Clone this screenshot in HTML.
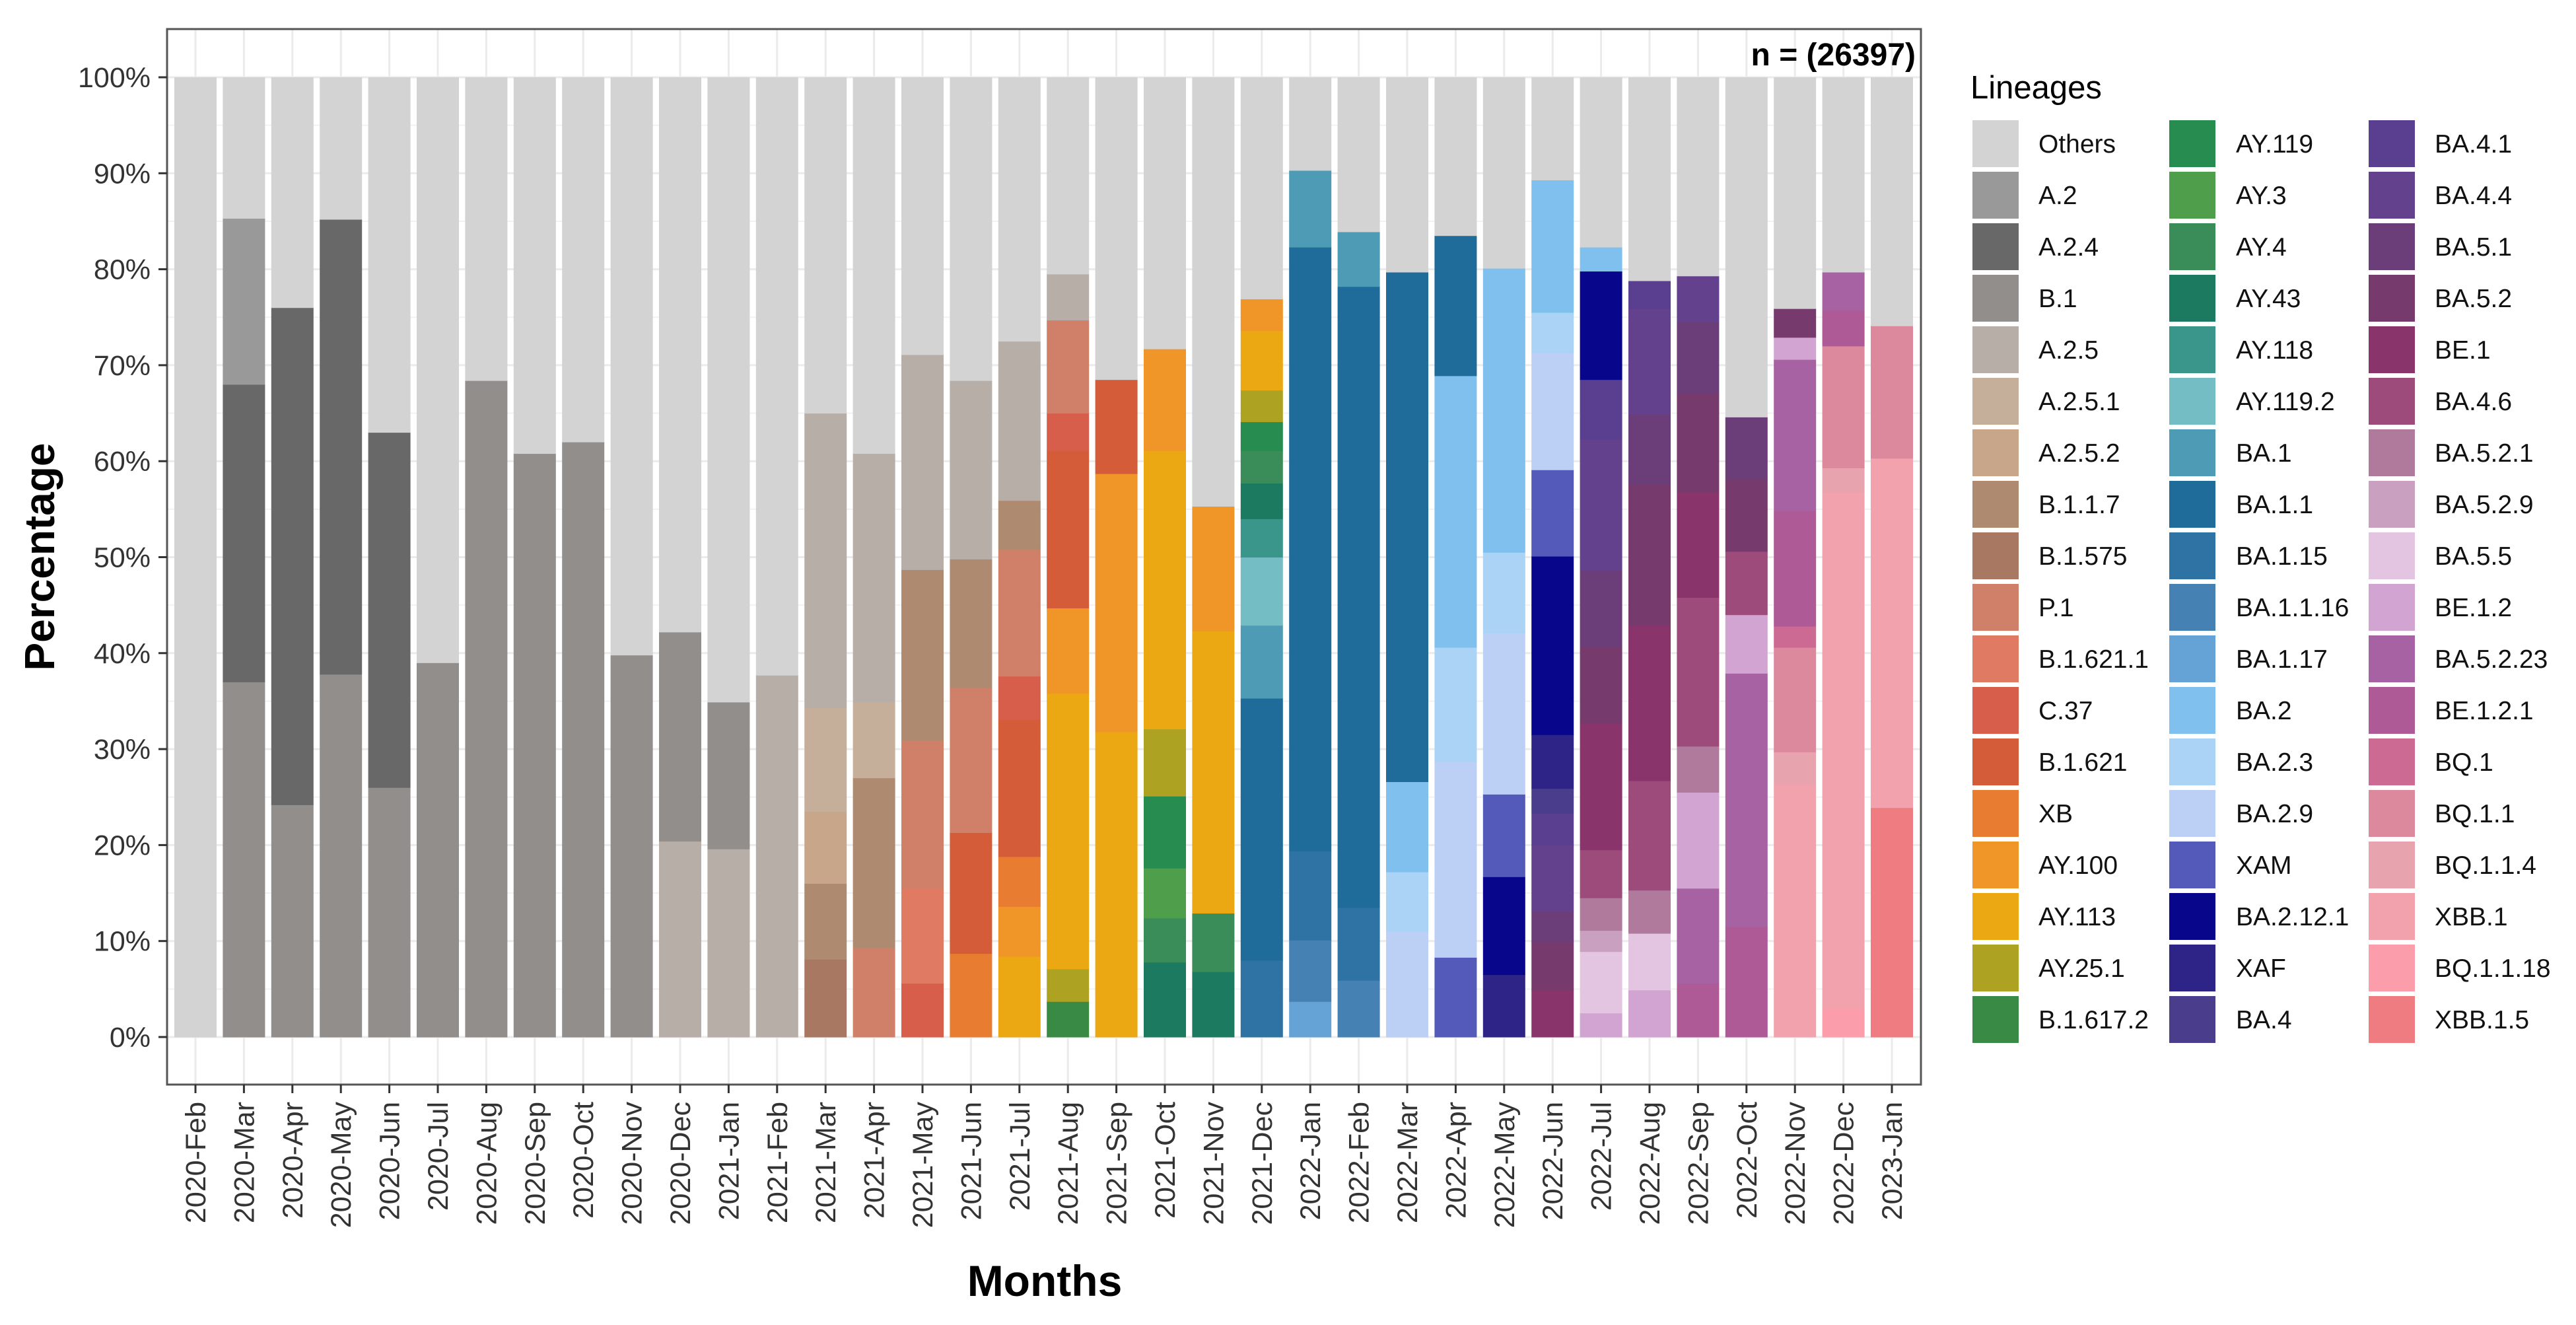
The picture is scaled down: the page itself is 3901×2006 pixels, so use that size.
<!DOCTYPE html>
<html><head><meta charset="utf-8"><style>
html,body{margin:0;padding:0;background:#fff;}
svg{display:block;font-family:"Liberation Sans",Arial,sans-serif;}
</style></head><body>
<svg id="chart" width="3901" height="2006" viewBox="0 0 3901 2006" xmlns="http://www.w3.org/2000/svg">
<rect x="0" y="0" width="3901" height="2006" fill="#fff"/>
<g id="grid"></g>
<g id="bars"></g>
<rect x="253" y="44" width="2656" height="1598" fill="none" stroke="#555" stroke-width="3"/>
<g id="yaxis"></g>
<g id="xaxis"></g>
<text transform="translate(82,843) rotate(-90)" text-anchor="middle" font-weight="bold" font-size="64" fill="#000">Percentage</text>
<text x="1582" y="1962" text-anchor="middle" font-weight="bold" font-size="66" fill="#000">Months</text>
<text x="2901" y="99" text-anchor="end" font-weight="bold" font-size="48" fill="#000">n = (26397)</text>
<text x="2984" y="149" font-size="49" fill="#000">Lineages</text>
<g id="legend"></g>
</svg>
<script>
const months = ["2020-Feb","2020-Mar","2020-Apr","2020-May","2020-Jun","2020-Jul","2020-Aug","2020-Sep","2020-Oct","2020-Nov","2020-Dec","2021-Jan","2021-Feb","2021-Mar","2021-Apr","2021-May","2021-Jun","2021-Jul","2021-Aug","2021-Sep","2021-Oct","2021-Nov","2021-Dec","2022-Jan","2022-Feb","2022-Mar","2022-Apr","2022-May","2022-Jun","2022-Jul","2022-Aug","2022-Sep","2022-Oct","2022-Nov","2022-Dec","2023-Jan"];
const lineages = ["Others","A.2","A.2.4","B.1","A.2.5","A.2.5.1","A.2.5.2","B.1.1.7","B.1.575","P.1","B.1.621.1","C.37","B.1.621","XB","AY.100","AY.113","AY.25.1","B.1.617.2",
"AY.119","AY.3","AY.4","AY.43","AY.118","AY.119.2","BA.1","BA.1.1","BA.1.15","BA.1.1.16","BA.1.17","BA.2","BA.2.3","BA.2.9","XAM","BA.2.12.1","XAF","BA.4",
"BA.4.1","BA.4.4","BA.5.1","BA.5.2","BE.1","BA.4.6","BA.5.2.1","BA.5.2.9","BA.5.5","BE.1.2","BA.5.2.23","BE.1.2.1","BQ.1","BQ.1.1","BQ.1.1.4","XBB.1","BQ.1.1.18","XBB.1.5"];
const colors = ["#d3d3d3","#999999","#686868","#928e8b","#b8aea8","#c5ae9a","#c7a68a","#ad8a70","#a87862","#d08069","#e07a62","#d65e4b","#d45c38","#e87c30","#f09528","#eca813","#aea223","#388a45",
"#268c4f","#4e9e4c","#3a8c58","#1b7a5f","#3a968a","#74bdc4","#4e9bb6","#1f6b99","#2f73a4","#4681b4","#65a3d6","#80c0ee","#aad3f6","#bccff5","#535ab9","#08068a","#2e2488","#4a3d8c",
"#5a3f90","#63418c","#6b3e7a","#763a6c","#8a346c","#9c4b7a","#b07a9c","#c9a0c0","#e3c5e1","#d1a4d1","#a662a2","#ae5a96","#cd6a94","#dc889d","#e8a4ae","#f2a2ac","#fb9dab","#ee7c80"];
const yTicks = [0,10,20,30,40,50,60,70,80,90,100];
const yTickLabels = ["0%","10%","20%","30%","40%","50%","60%","70%","80%","90%","100%"];
// share (%) of each lineage per month; "Others" = remainder to 100
const shares = [
{},
{"B.1":37,"A.2.4":31,"A.2":17.3},
{"B.1":24.2,"A.2.4":51.8},
{"B.1":37.8,"A.2.4":47.4},
{"B.1":26,"A.2.4":37},
{"B.1":39},
{"B.1":68.4},
{"B.1":60.8},
{"B.1":62},
{"B.1":39.8},
{"A.2.5":20.4,"B.1":21.8},
{"A.2.5":19.6,"B.1":15.3},
{"A.2.5":37.7},
{"B.1.575":8.1,"B.1.1.7":7.9,"A.2.5.2":7.5,"A.2.5.1":10.8,"A.2.5":30.7},
{"P.1":9.3,"B.1.1.7":17.7,"A.2.5.1":7.9,"A.2.5":25.9},
{"C.37":5.6,"B.1.621.1":9.9,"P.1":15.4,"B.1.1.7":17.8,"A.2.5":22.4},
{"XB":8.7,"B.1.621":12.6,"P.1":15.1,"B.1.1.7":13.4,"A.2.5":18.6},
{"AY.113":8.4,"AY.100":5.2,"XB":5.2,"B.1.621":14.3,"C.37":4.5,"P.1":13.2,"B.1.1.7":5.1,"A.2.5":16.6},
{"B.1.617.2":3.7,"AY.25.1":3.4,"AY.113":28.7,"AY.100":8.9,"B.1.621":16.4,"C.37":3.9,"P.1":9.7,"A.2.5":4.8},
{"AY.113":31.8,"AY.100":26.9,"B.1.621":9.8},
{"AY.43":7.8,"AY.4":4.6,"AY.3":5.2,"AY.119":7.5,"AY.25.1":7.0,"AY.113":29.0,"AY.100":10.6},
{"AY.43":6.8,"AY.4":6.1,"AY.113":29.4,"AY.100":13.0},
{"BA.1.15":8.0,"BA.1.1":27.3,"BA.1":7.6,"AY.119.2":7.1,"AY.118":4.0,"AY.43":3.7,"AY.4":3.4,"AY.119":3.0,"AY.25.1":3.3,"AY.113":6.2,"AY.100":3.3},
{"BA.1.17":3.7,"BA.1.1.16":6.4,"BA.1.15":9.3,"BA.1.1":62.9,"BA.1":8.0},
{"BA.1.1.16":5.9,"BA.1.15":7.6,"BA.1.1":64.7,"BA.1":5.7},
{"BA.2.9":11.0,"BA.2.3":6.2,"BA.2":9.4,"BA.1.1":53.1},
{"XAM":8.3,"BA.2.9":20.4,"BA.2.3":11.9,"BA.2":28.3,"BA.1.1":14.6},
{"XAF":6.5,"BA.2.12.1":10.2,"XAM":8.6,"BA.2.9":16.8,"BA.2.3":8.4,"BA.2":29.6},
{"BE.1":4.9,"BA.5.2":5.0,"BA.5.1":3.2,"BA.4.4":6.9,"BA.4.1":3.3,"BA.4":2.6,"XAF":5.6,"BA.2.12.1":18.6,"XAM":9.0,"BA.2.9":12.2,"BA.2.3":4.2,"BA.2":13.8},
{"BE.1.2":2.5,"BA.5.5":6.4,"BA.5.2.9":2.2,"BA.5.2.1":3.4,"BA.4.6":5.0,"BE.1":13.2,"BA.5.2":8.0,"BA.5.1":7.9,"BA.4.4":13.7,"BA.4.1":6.2,"BA.2.12.1":11.3,"BA.2":2.5},
{"BE.1.2":4.9,"BA.5.5":5.9,"BA.5.2.1":4.5,"BA.4.6":11.4,"BE.1":16.2,"BA.5.2":14.7,"BA.5.1":7.3,"BA.4.4":11.0,"BA.4.1":2.9},
{"BE.1.2.1":5.6,"BA.5.2.23":9.9,"BE.1.2":10.0,"BA.5.2.1":4.8,"BA.4.6":15.5,"BE.1":11.0,"BA.5.2":10.3,"BA.5.1":7.4,"BA.4.4":4.8},
{"BE.1.2.1":11.5,"BA.5.2.23":26.4,"BE.1.2":6.1,"BA.4.6":6.6,"BA.5.2":7.5,"BA.5.1":6.5},
{"XBB.1":26.3,"BQ.1.1.4":3.4,"BQ.1.1":10.9,"BQ.1":2.2,"BE.1.2.1":12.0,"BA.5.2.23":15.8,"BE.1.2":2.3,"BA.5.2":3.0},
{"BQ.1.1.18":3.0,"XBB.1":53.8,"BQ.1.1.4":2.5,"BQ.1.1":12.7,"BE.1.2.1":3.7,"BA.5.2.23":4.0},
{"XBB.1.5":23.9,"XBB.1":36.4,"BQ.1.1":13.8}
];

const NS="http://www.w3.org/2000/svg";
const X0=296, DX=73.4, BW=64, Y0=1570, YS=14.53;
const xPos = i => X0 + DX*i;
const yPos = v => Y0 - v*YS;
function mk(tag, attrs, parent){const e=document.createElementNS(NS,tag);for(const k in attrs)e.setAttribute(k,attrs[k]);parent.appendChild(e);return e;}

const grid=document.getElementById('grid');
for(let v=5; v<=100; v+=10){
  const g=mk('line',{x1:253,x2:2909,y1:yPos(v),y2:yPos(v),stroke:'#f2f2f2','stroke-width':2},grid);
  
  
}
yTicks.forEach(v=>{
  const g=mk('line',{x1:253,x2:2909,y1:yPos(v),y2:yPos(v),stroke:'#ebebeb','stroke-width':3},grid);
  
  
});
months.forEach((m,i)=>{
  const g=mk('line',{x1:xPos(i),x2:xPos(i),y1:44,y2:1642,stroke:'#ebebeb','stroke-width':3},grid);
  
  
});

const bars=document.getElementById('bars');
const stackOrder=lineages.slice(1).reverse();
shares.forEach((s,i)=>{
  let cum=0;
  const segs=[];
  stackOrder.forEach(l=>{ if(s[l]) segs.push([l,s[l]]); });
  let tot=segs.reduce((a,b)=>a+b[1],0);
  segs.push(["Others",100-tot]);
  segs.forEach(([l,v])=>{
    const r=mk('rect',{x:xPos(i)-BW/2,y:yPos(cum+v),width:BW,height:v*YS+0.5,fill:colors[lineages.indexOf(l)]},bars);
    
    
    cum+=v;
  });
});

const ya=document.getElementById('yaxis');
yTicks.forEach((v,k)=>{
  const t=mk('line',{x1:240,x2:253,y1:yPos(v),y2:yPos(v),stroke:'#333','stroke-width':3},ya);
  
  
  const tx=mk('text',{x:228,y:yPos(v)+15,'text-anchor':'end','font-size':43,fill:'#333'},ya);
  tx.textContent=yTickLabels[k];
  
  
});
const xa=document.getElementById('xaxis');
months.forEach((m,i)=>{
  const t=mk('line',{x1:xPos(i),x2:xPos(i),y1:1642,y2:1655,stroke:'#333','stroke-width':3},xa);
  
  
  const tx=mk('text',{transform:`translate(${xPos(i)+15},1668) rotate(-90)`,'text-anchor':'end','font-size':43,fill:'#333'},xa);
  tx.textContent=m;
  
  
});

const lg=document.getElementById('legend');
lineages.forEach((l,k)=>{
  const col=Math.floor(k/18), row=k%18;
  const sx=[2987,3285,3587][col], tx=[3087,3386,3687][col];
  const cy=217+78*row;
  const r=mk('rect',{x:sx,y:cy-35,width:70,height:71,fill:colors[k]},lg);
  
  
  const t=mk('text',{x:tx,y:cy+14,'font-size':39,fill:'#111'},lg);
  t.textContent=l;
  
  
});
</script>
</body></html>
